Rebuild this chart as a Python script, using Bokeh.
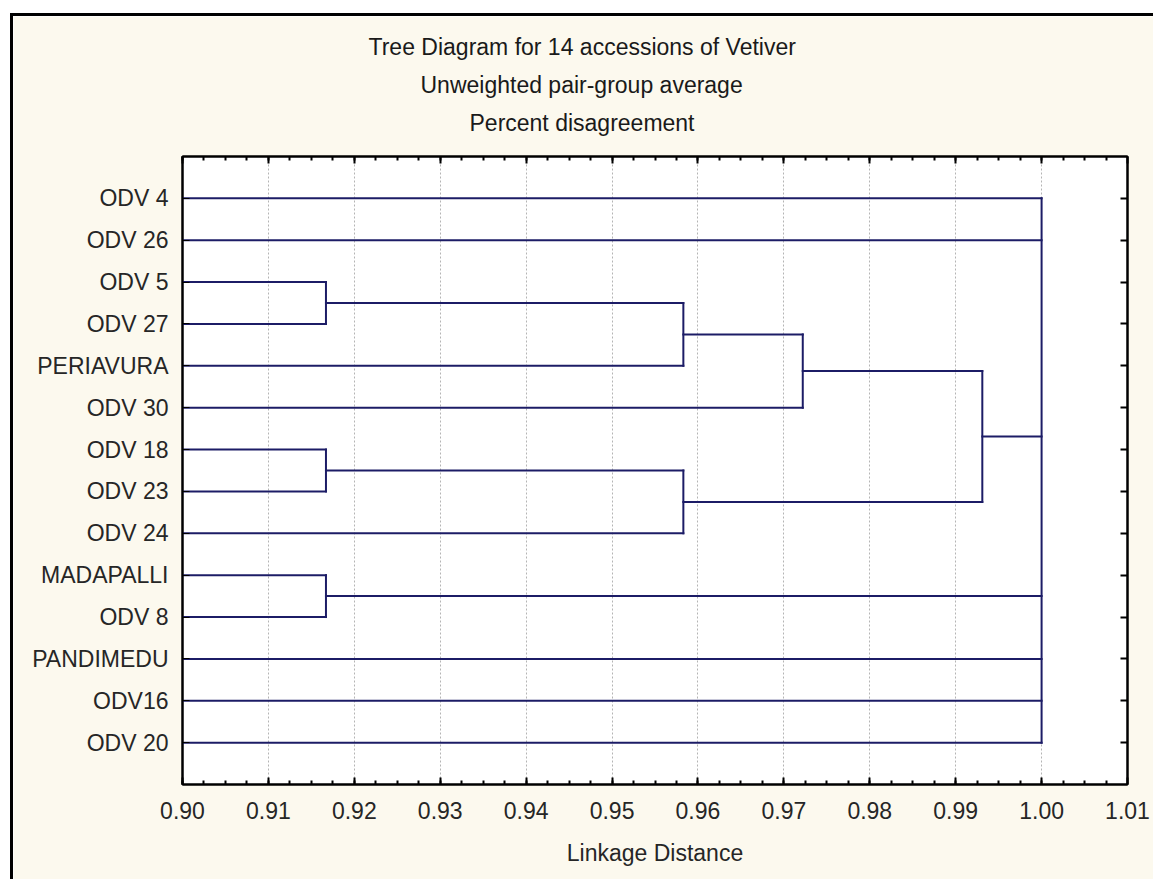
from bokeh.plotting import figure
from bokeh.models import (Range1d, FixedTicker, LinearAxis, Title,
                          PrintfTickFormatter, CustomJSTickFormatter)
from bokeh.embed import file_html
from bokeh.resources import INLINE

# Accessions, top to bottom as they appear in the tree
leaf_labels = ["ODV 4", "ODV 26", "ODV 5", "ODV 27", "PERIAVURA", "ODV 30",
               "ODV 18", "ODV 23", "ODV 24", "MADAPALLI", "ODV 8",
               "PANDIMEDU", "ODV16", "ODV 20"]

# Clusters (UPGMA joins) and the linkage distance at which they form
cluster_names = ["A", "B", "C", "D", "E", "F", "G", "ROOT"]
cluster_members = [
    ["ODV 5", "ODV 27"],
    ["ODV 18", "ODV 23"],
    ["MADAPALLI", "ODV 8"],
    ["A", "PERIAVURA"],
    ["B", "ODV 24"],
    ["D", "ODV 30"],
    ["F", "E"],
    ["ODV 4", "ODV 26", "G", "C", "PANDIMEDU", "ODV16", "ODV 20"],
]
cluster_heights = [0.9167, 0.9167, 0.9167, 0.9583, 0.9583, 0.9722, 0.9931, 1.0]

x_ticks = [0.90, 0.91, 0.92, 0.93, 0.94, 0.95, 0.96, 0.97, 0.98, 0.99, 1.00, 1.01]

title_lines = ["Tree Diagram for 14 accessions of Vetiver",
               "Unweighted pair-group average",
               "Percent disagreement"]
x_axis_title = "Linkage Distance"

FONT = "Liberation Sans"
TEXT = "#262626"
LINE = "#1c1c66"
BG = "#fcf9ee"

# ---- tree geometry -------------------------------------------------------
x_start = x_ticks[0]
ypos = {name: i + 1 for i, name in enumerate(leaf_labels)}
xpos = {name: x_start for name in leaf_labels}

seg_x, seg_y = [], []
for name, members, h in zip(cluster_names, cluster_members, cluster_heights):
    ys = [ypos[m] for m in members]
    for m in members:
        seg_x.append([xpos[m], h])
        seg_y.append([ypos[m], ypos[m]])
    seg_x.append([h, h])
    seg_y.append([min(ys), max(ys)])
    ypos[name] = (min(ys) + max(ys)) / 2
    xpos[name] = h

n_leaves = len(leaf_labels)
leaf_ticks = list(range(1, n_leaves + 1))

step = (x_ticks[1] - x_ticks[0]) / 4
minor = [x_ticks[0] + k * step for k in range(4 * (len(x_ticks) - 1) + 1)]

p = figure(width=1143, height=866,
           x_range=Range1d(x_ticks[0], x_ticks[-1]),
           y_range=Range1d(n_leaves + 1, 0),
           output_backend="svg", toolbar_location=None,
           min_border_left=169, min_border_right=29,
           min_border_top=140, min_border_bottom=98)
p.styles = {"margin-left": "10px", "margin-top": "13px",
            "border-left": "3px solid black", "border-top": "3px solid black"}
p.background_fill_color = "white"
p.border_fill_color = BG
p.outline_line_color = "black"
p.outline_line_width = 2

xtick = FixedTicker(ticks=x_ticks, minor_ticks=minor)
ytick = FixedTicker(ticks=leaf_ticks)
blank = CustomJSTickFormatter(code="return ''")

# bottom axis
xa = p.xaxis[0]
xa.ticker = xtick
xa.formatter = PrintfTickFormatter(format="%.2f")
xa.axis_label = x_axis_title
xa.axis_label_text_font = FONT
xa.axis_label_text_font_size = "23px"
xa.axis_label_text_font_style = "normal"
xa.axis_label_text_color = TEXT
xa.axis_label_standoff = 18
xa.major_label_text_font = FONT
xa.major_label_text_font_size = "23px"
xa.major_label_text_color = TEXT
xa.major_label_standoff = 17
xa.axis_line_width = 2
xa.major_tick_in = 7
xa.major_tick_out = 0
xa.minor_tick_in = 4
xa.minor_tick_out = 0
xa.major_tick_line_width = 2
xa.minor_tick_line_width = 2

# left axis with accession names
ya = p.yaxis[0]
ya.ticker = ytick
ya.major_label_overrides = {i + 1: lab for i, lab in enumerate(leaf_labels)}
ya.major_label_text_font = FONT
ya.major_label_text_font_size = "23px"
ya.major_label_text_color = TEXT
ya.major_label_standoff = 14
ya.axis_line_width = 2
ya.major_tick_in = 7
ya.major_tick_out = 0
ya.minor_tick_line_color = None

# top and right frame ticks
top = LinearAxis(ticker=xtick, formatter=blank, axis_line_width=2,
                 major_tick_in=7, major_tick_out=0, minor_tick_in=4,
                 minor_tick_out=0, major_tick_line_width=2,
                 minor_tick_line_width=2, major_label_standoff=0)
p.add_layout(top, "above")
right = LinearAxis(ticker=ytick, formatter=blank, axis_line_width=2,
                   major_tick_in=7, major_tick_out=0, major_tick_line_width=2,
                   minor_tick_line_color=None, major_label_standoff=0)
p.add_layout(right, "right")

p.xgrid.ticker = xtick
p.xgrid.grid_line_color = "#b4b4b4"
p.xgrid.grid_line_dash = "2 2"
p.xgrid.grid_line_width = 1
p.ygrid.grid_line_color = None

p.multi_line(seg_x, seg_y, line_color=LINE, line_width=2, line_cap="square")

# gap between the frame and the heading block
p.add_layout(Title(text=" ", text_font_size="1px", standoff=13), "above")

# three-line heading, stacked upward from the frame; left offsets centre
# each line on the page rather than on the frame
heading_offsets = [186, 238, 287]
for line, off in reversed(list(zip(title_lines, heading_offsets))):
    p.add_layout(Title(text=line, align="left", offset=off,
                       text_font=FONT, text_font_size="23px",
                       text_font_style="normal", text_color="#1a1a1a",
                       standoff=10), "above")

open("out.html", "w").write(file_html(p, INLINE))
